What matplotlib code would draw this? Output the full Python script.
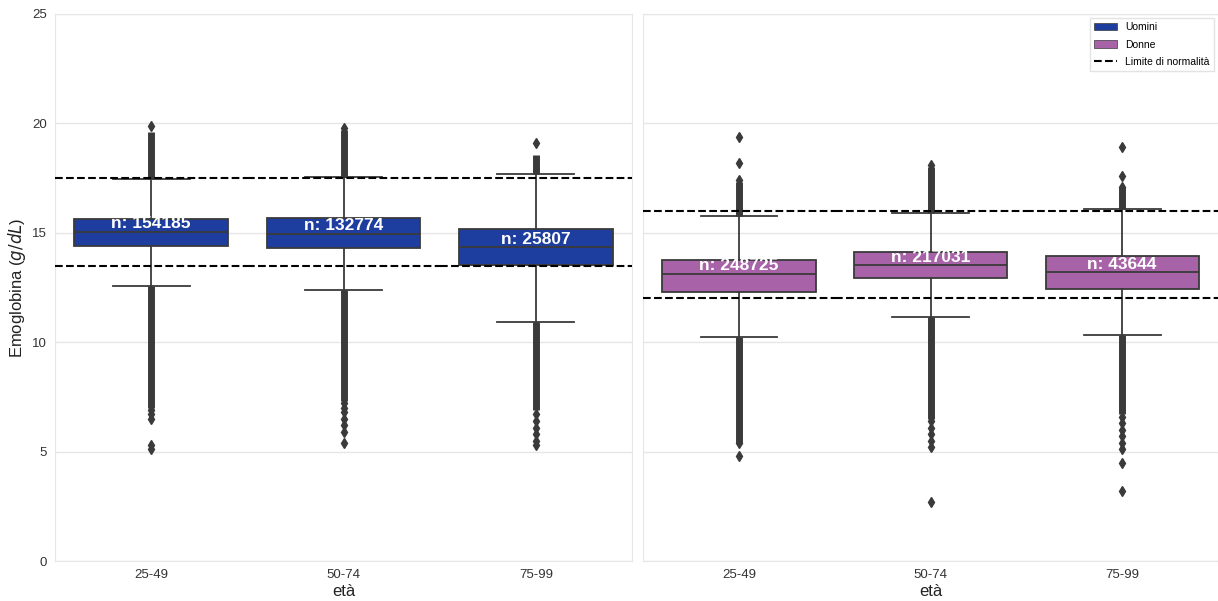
import matplotlib
matplotlib.use("Agg")
import matplotlib.pyplot as plt
from matplotlib.patches import Patch
from matplotlib.lines import Line2D

plt.rcParams['font.family'] = ['Liberation Sans', 'DejaVu Sans']

categories = ["25-49", "50-74", "75-99"]

# Uomini (men)
m_q1 = [14.40, 14.30, 13.53]
m_med = [15.04, 14.95, 14.35]
m_q3 = [15.63, 15.68, 15.17]
m_whislo = [12.57, 12.38, 10.92]
m_whishi = [17.45, 17.55, 17.69]
m_n = [154185, 132774, 25807]
m_fliers = [
    [19.9, 6.9, 6.7, 6.5, 5.3, 5.1],
    [19.8, 7.2, 7.0, 6.8, 6.5, 6.2, 5.9, 5.4],
    [19.1, 6.7, 6.4, 6.1, 5.8, 5.5, 5.3],
]
# dense outlier runs (low, high)
m_dense = [
    [(17.45, 19.6), (7.0, 12.57)],
    [(17.55, 19.7), (7.3, 12.38)],
    [(17.69, 18.55), (6.9, 10.92)],
]
m_limits = [13.5, 17.5]

# Donne (women)
f_q1 = [12.29, 12.93, 12.43]
f_med = [13.12, 13.53, 13.21]
f_q3 = [13.76, 14.12, 13.94]
f_whislo = [10.24, 11.15, 10.33]
f_whishi = [15.77, 15.90, 16.09]
f_n = [248725, 217031, 43644]
f_fliers = [
    [19.4, 18.2, 17.4, 5.4, 4.8],
    [18.1, 6.4, 6.1, 5.8, 5.5, 5.2, 2.7],
    [18.9, 17.6, 17.1, 6.6, 6.3, 6.0, 5.7, 5.4, 5.1, 4.5, 3.2],
]
f_dense = [
    [(15.77, 17.3), (5.4, 10.24)],
    [(15.90, 18.0), (6.5, 11.15)],
    [(16.09, 17.1), (6.7, 10.33)],
]
f_limits = [12.0, 16.0]

c_men = "#1d3d9f"
c_women = "#a862a8"
line_c = "#3a3a3a"
grid_c = "#e6e6e6"

fig = plt.figure(figsize=(12.18, 6.01), dpi=100)
ax1 = fig.add_axes([55/1218, 1-561/601, 577/1218, 547/601])
ax2 = fig.add_axes([643/1218, 1-561/601, 575/1218, 547/601], sharey=ax1)


def draw(ax, q1, med, q3, wlo, whi, fliers, dense, ns, limits, color):
    stats = []
    for i in range(len(categories)):
        stats.append(dict(q1=q1[i], med=med[i], q3=q3[i], whislo=wlo[i],
                          whishi=whi[i], fliers=fliers[i], label=categories[i]))
    pos = list(range(len(categories)))
    # dense outliers as thick runs
    for i, runs in enumerate(dense):
        for lo, hi in runs:
            ax.vlines(i, lo, hi, color=line_c, lw=5, zorder=2)
    ax.bxp(stats, positions=pos, widths=0.8, patch_artist=True,
           boxprops=dict(facecolor=color, edgecolor=line_c, lw=1.3),
           medianprops=dict(color=line_c, lw=1.3),
           whiskerprops=dict(color=line_c, lw=1.3),
           capprops=dict(color=line_c, lw=1.3),
           flierprops=dict(marker='d', markerfacecolor=line_c,
                           markeredgecolor=line_c, markersize=5),
           capwidths=0.4, manage_ticks=False, zorder=3)
    for i in pos:
        for y in limits:
            ax.hlines(y, i - 0.5, i + 0.5, colors='black', linestyles='--',
                      lw=1.5, zorder=4)
        ax.text(i, med[i] + 0.02, f"n: {ns[i]}", ha='center', va='bottom',
                color='white', fontsize=12.5, fontweight='bold', zorder=6)
    ax.set_xlim(-0.5, 2.5)
    ax.set_ylim(0, 25)
    ax.set_xticks(pos)
    ax.set_xticklabels(categories)
    ax.set_yticks([0, 5, 10, 15, 20, 25])
    ax.yaxis.grid(True, color=grid_c, lw=1)
    ax.set_axisbelow(True)
    ax.tick_params(length=0, labelsize=9.5, colors='#333333', pad=6)
    for s in ax.spines.values():
        s.set_color(grid_c)
    ax.set_xlabel("età", fontsize=12, color='#222222', labelpad=2)


draw(ax1, m_q1, m_med, m_q3, m_whislo, m_whishi, m_fliers, m_dense, m_n,
     m_limits, c_men)
draw(ax2, f_q1, f_med, f_q3, f_whislo, f_whishi, f_fliers, f_dense, f_n,
     f_limits, c_women)

ax1.set_ylabel("Emoglobina ($g/dL$)", fontsize=12, color='#222222', labelpad=3)
ax2.tick_params(labelleft=False)

handles = [Patch(facecolor=c_men, edgecolor=line_c, lw=0.5, label="Uomini"),
           Patch(facecolor=c_women, edgecolor=line_c, lw=0.5, label="Donne"),
           Line2D([], [], color='black', ls='--', lw=1.5, label="Limite di normalità")]
ax2.legend(handles=handles, loc='upper right', fontsize=7.5, frameon=True,
           edgecolor='#dddddd', fancybox=False, borderaxespad=0.4,
           labelspacing=0.7, handlelength=2.2)

fig.savefig("out.png", dpi=100)
